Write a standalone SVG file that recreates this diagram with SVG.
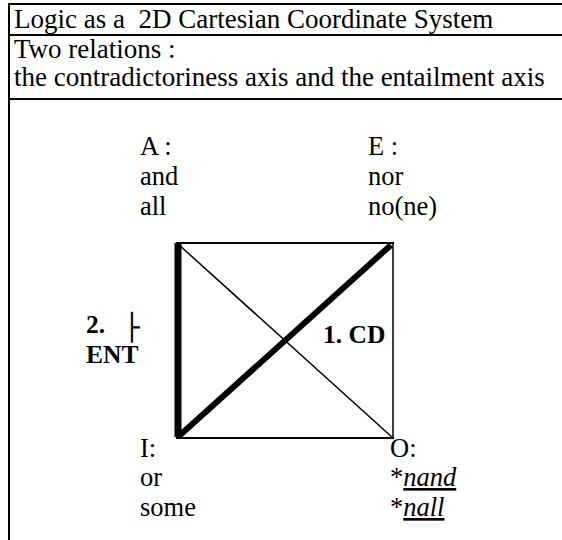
<svg xmlns="http://www.w3.org/2000/svg" width="562" height="540" viewBox="0 0 562 540">
<style>
text{font-family:"Liberation Serif","Times New Roman",serif;font-size:26.5px;fill:#000}
.t{font-size:27px;white-space:pre}
.b{font-weight:bold;font-size:25.5px}
.tb{stroke:#000;stroke-width:2;fill:none}
</style>
<rect width="562" height="540" fill="#fff"/>
<g id="table">
<line class="tb" x1="9" y1="4" x2="562" y2="4"/>
<line class="tb" x1="9" y1="35" x2="562" y2="35"/>
<line class="tb" x1="9" y1="99" x2="562" y2="99"/>
<line class="tb" x1="9" y1="3" x2="9" y2="540"/>
<text class="t" x="14" y="28" xml:space="preserve">Logic as a  2D Cartesian Coordinate System</text>
<text class="t" x="14" y="58">Two relations :</text>
<text class="t" x="14" y="86">the contradictoriness axis and the entailment axis</text>
</g>
<g id="connectors" stroke="#000" stroke-linecap="square">
<line x1="177" y1="243" x2="393" y2="243" stroke-width="2"/>
<line x1="177" y1="438" x2="393" y2="438" stroke-width="2"/>
<line x1="393" y1="243" x2="393" y2="438" stroke-width="1.5"/>
<line x1="178" y1="244" x2="393" y2="438" stroke-width="1.5"/>
<line x1="178" y1="243" x2="178" y2="437" stroke-width="7" stroke-linecap="butt"/>
<line x1="179" y1="436" x2="391" y2="245" stroke-width="6" stroke-linecap="butt"/>
</g>
<g id="A"><text x="140" y="155">A :</text><text x="140" y="185">and</text><text x="140" y="215">all</text></g>
<g id="E"><text x="368" y="155">E :</text><text x="368" y="185">nor</text><text x="368" y="215">no(ne)</text></g>
<g id="I"><text x="140" y="457">I:</text><text x="140" y="486">or</text><text x="140" y="516">some</text></g>
<g id="O"><text x="390" y="457">O:</text><text x="390" y="486">*<tspan font-style="italic" text-decoration="underline">nand</tspan></text><text x="390" y="516">*<tspan font-style="italic" text-decoration="underline">nall</tspan></text></g>
<g id="ent"><text class="b" x="86" y="333">2.</text><text x="124" y="336" style="font-family:'DejaVu Sans',sans-serif;font-size:26px">├</text><text class="b" x="86" y="363">ENT</text></g>
<g id="cd"><text class="b" x="323" y="343">1. CD</text></g>
</svg>
